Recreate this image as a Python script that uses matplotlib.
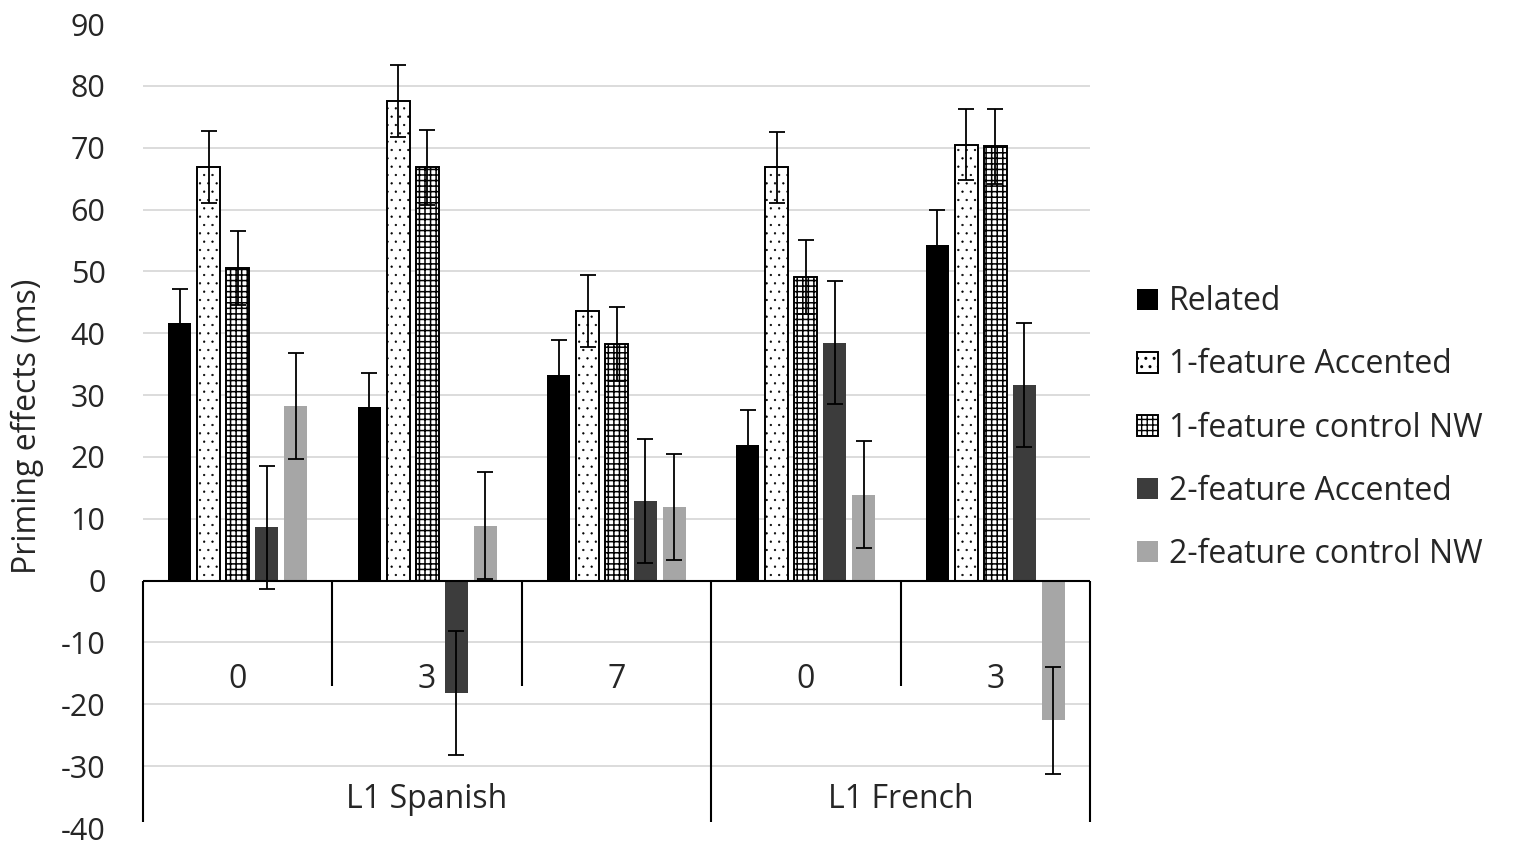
import numpy as np
import matplotlib.pyplot as plt

plt.rcParams['font.family'] = ['Open Sans', 'DejaVu Sans']
plt.rcParams['axes.unicode_minus'] = False

# data
categories = ['0', '3', '7', '0', '3']
groups = ['L1 Spanish', 'L1 French']
group_sizes = [3, 2]
series = ['Related', '1-feature Accented', '1-feature control NW',
          '2-feature Accented', '2-feature control NW']

related = [41.6, 28.0, 33.3, 22.0, 54.3]
acc1 = [66.9, 77.6, 43.6, 66.8, 70.5]
ctrl1 = [50.5, 66.8, 38.2, 49.1, 70.2]
acc2 = [8.6, -18.2, 12.9, 38.5, 31.6]
ctrl2 = [28.2, 8.9, 11.9, 13.9, -22.6]

err_related = [5.6, 5.6, 5.6, 5.6, 5.6]
err_acc1 = [5.8, 5.8, 5.8, 5.8, 5.8]
err_ctrl1 = [6.0, 6.0, 6.0, 6.0, 6.0]
err_acc2 = [10.0, 10.0, 10.0, 10.0, 10.0]
err_ctrl2 = [8.6, 8.6, 8.6, 8.6, 8.6]

values = [related, acc1, ctrl1, acc2, ctrl2]
errors = [err_related, err_acc1, err_ctrl1, err_acc2, err_ctrl2]
styles = [
    dict(color='black'),
    dict(facecolor='white', edgecolor='black', hatch='..', linewidth=1.4),
    dict(facecolor='white', edgecolor='black', hatch='+++', linewidth=1.4),
    dict(color='#3c3c3c'),
    dict(color='#a6a6a6'),
]
hatch_lw = [1.0, 0.4, 1.1, 1.0, 1.0]

fig = plt.figure(figsize=(15.24, 8.48), dpi=100)
ax = fig.add_axes([143 / 1524, 1 - 828 / 848, (1090 - 143) / 1524, (828 - 24) / 848])

x = np.arange(len(categories))
slot = 0.153
width = 0.122
handles = []
for i, (vals, errs, st) in enumerate(zip(values, errors, styles)):
    pos = x + (i - 2) * slot
    with plt.rc_context({'hatch.linewidth': hatch_lw[i]}):
        b = ax.bar(pos, vals, width, label=series[i], zorder=2, **st)
    handles.append(b)
    ax.errorbar(pos, vals, yerr=errs, fmt='none', ecolor='black',
                elinewidth=1.3, capsize=5.5, capthick=1.3, zorder=3)

ax.set_xlim(-0.5, len(categories) - 0.5)
ax.set_ylim(-40, 90)
ax.set_yticks(range(-40, 100, 10))
ax.set_xticks([])
ax.tick_params(axis='y', length=0, pad=27, labelsize=22, colors='#262626')
for s in ax.spines.values():
    s.set_visible(False)

ax.yaxis.grid(True, color='#d9d9d9', linewidth=1.3)
ax.set_axisbelow(True)
gl = ax.yaxis.get_gridlines()
gl[0].set_visible(False)
gl[-1].set_visible(False)

ax.axhline(0, color='black', linewidth=1.5, zorder=2.5)

# multi-level category axis
bounds = np.cumsum([0] + group_sizes) - 0.5
for xb in np.arange(-0.5, len(categories)):
    bottom = -39 if xb in bounds else -17
    ax.vlines(xb, bottom, 0, color='black', linewidth=1.5, clip_on=False)
for xi, lab in zip(x, categories):
    ax.text(xi, -16.0, lab, ha='center', va='center', fontsize=23, color='#262626')
for g, lo, hi in zip(groups, bounds[:-1], bounds[1:]):
    ax.text((lo + hi) / 2, -35.4, g, ha='center', va='center', fontsize=23, color='#262626')

ax.set_ylabel('Priming effects (ms)', fontsize=23, color='#262626')
ax.yaxis.set_label_coords(-0.105, 0.5)

fig.legend(handles=handles, loc='center left', bbox_to_anchor=(1108 / 1524, 1 - 428 / 848),
           frameon=False, fontsize=23, labelspacing=0.94, handlelength=0.65,
           handleheight=0.65, handletextpad=0.35, labelcolor='#262626')

fig.savefig('out.png', dpi=100)
